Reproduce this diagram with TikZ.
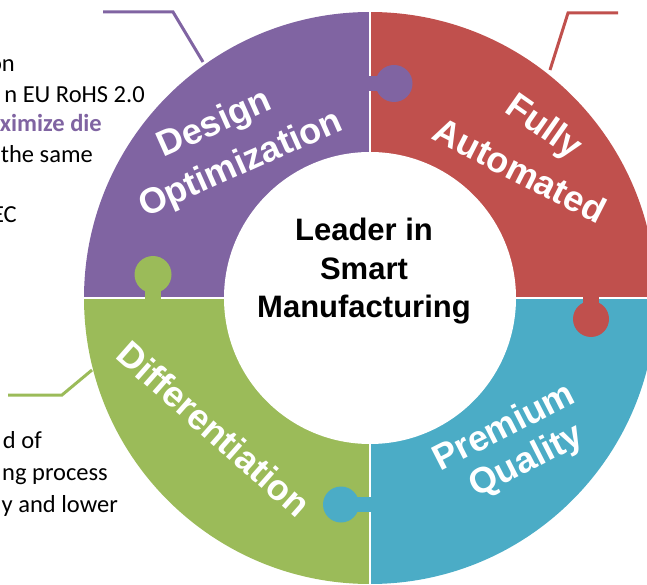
\documentclass[tikz,border=0pt]{standalone}
\usepackage{fontspec}
\setmainfont{Carlito}
\newfontfamily\lsans{Liberation Sans}
\definecolor{dpurple}{HTML}{8064A2}
\definecolor{dred}{HTML}{C0504D}
\definecolor{dblue}{HTML}{4BACC6}
\definecolor{dgreen}{HTML}{9BBB59}
\begin{document}
\begin{tikzpicture}[x=1pt,y=1pt,
  seglabel/.style={text=white, font=\lsans\bfseries\fontsize{36}{40}\selectfont, inner sep=0},
  centertext/.style={text=black, font=\lsans\bfseries\fontsize{31}{38}\selectfont, inner sep=0, anchor=base},
  sidetext/.style={font=\fontsize{24.5}{29}\selectfont, anchor=base east, inner sep=0},
  callout/.style={line width=3pt}]
\useasboundingbox (0,0) rectangle (647,584);
\begin{scope}
\clip (0,0) rectangle (647,584);
% side texts
\node[sidetext] (t1) at (15,512) {on};
\node[sidetext] (t2) at (145,481) {n EU RoHS 2.0};
\node[sidetext, text=dpurple, font=\bfseries\fontsize{24.5}{29}\selectfont] (t3) at (102,452) {ximize die};
\node[sidetext] (t4) at (93,421) {the same};
\node[sidetext] (t5) at (17,361) {EC};
\node[sidetext] (t6) at (42,136) {d of};
\node[sidetext] (t7) at (108,104) {ng process};
\node[sidetext] (t8) at (118,72) {y and lower};
% ring sectors
\coordinate (c) at (370,286);
\fill[dred] (c) -- ++(0:286) arc[start angle=0, end angle=90, radius=286] -- cycle;
\fill[dpurple] (c) -- ++(90:286) arc[start angle=90, end angle=180, radius=286] -- cycle;
\fill[dgreen] (c) -- ++(180:286) arc[start angle=180, end angle=270, radius=286] -- cycle;
\fill[dblue] (c) -- ++(270:286) arc[start angle=270, end angle=360, radius=286] -- cycle;
% separators
\draw[white, line width=2.5pt] (60,286) -- (680,286);
\draw[white, line width=2.5pt] (370,-20) -- (370,600);
% knobs
\fill[dpurple] (394,500.5) circle[radius=18.5];
\fill[dpurple] (366,493) rectangle (394,508);
\fill[dred] (591,265) circle[radius=18];
\fill[dred] (583,265) rectangle (599,290);
\fill[dblue] (341,79.5) circle[radius=18];
\fill[dblue] (341,72) rectangle (374,87);
\fill[dgreen] (153,309.5) circle[radius=18.5];
\fill[dgreen] (145,282) rectangle (161,309.5);
% inner circle
\fill[white] (c) circle[radius=146];
% callouts
\coordinate (pa) at (103,572);
\coordinate (pb) at (173,572);
\coordinate (pc) at (203,522);
\draw[callout, dpurple] (pa) -- (pb) -- (pc);
\coordinate (ra) at (618,571);
\coordinate (rb) at (568,571);
\coordinate (rc) at (550,514);
\draw[callout, dred] (ra) -- (rb) -- (rc);
\coordinate (ga) at (8,189);
\coordinate (gb) at (62,189);
\coordinate (gc) at (92,214);
\draw[callout, dgreen] (ga) -- (gb) -- (gc);
% segment labels
\node[seglabel, rotate=24] (lDesign) at (215,459) {Design};
\node[seglabel, rotate=24] (lOpt) at (241,419) {Optimization};
\node[seglabel, rotate=-35] (lFully) at (543,456) {Fully};
\node[seglabel, rotate=-27] (lAuto) at (520,414) {Automated};
\node[seglabel, rotate=27] (lPrem) at (503,159) {Premium};
\node[seglabel, rotate=27] (lQual) at (527,122) {Quality};
\node[seglabel, rotate=-41.5] (lDiff) at (214,155) {Differentiation};
% center
\node[centertext] (m1) at (364,343) {Leader in};
\node[centertext] (m2) at (364,304) {Smart};
\node[centertext] (m3) at (364,266) {Manufacturing};
\end{scope}
\end{tikzpicture}
\end{document}
